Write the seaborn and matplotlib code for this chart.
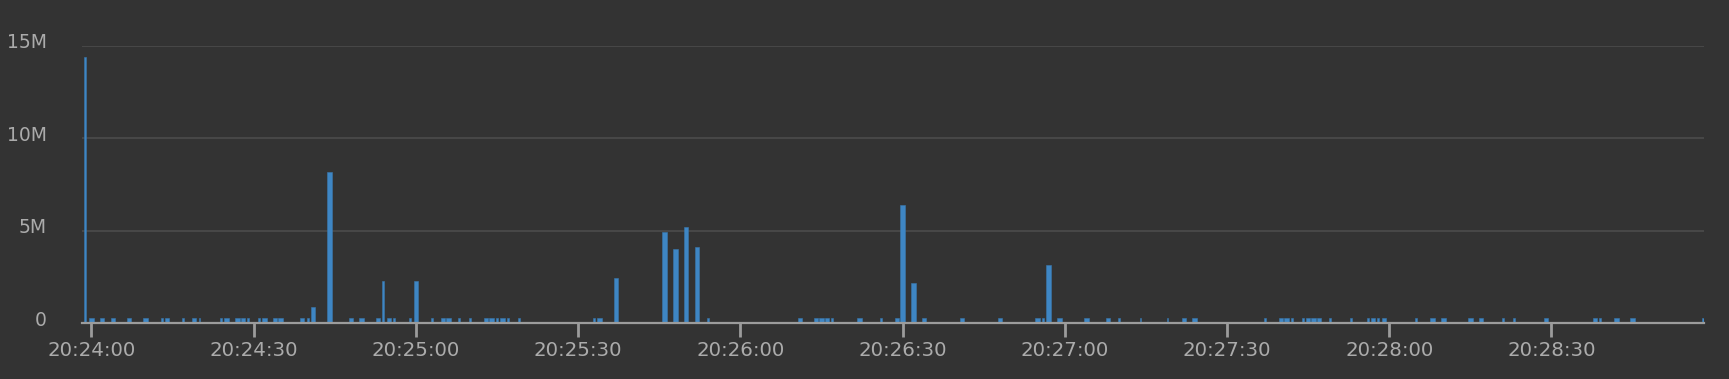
import numpy as np
import pandas as pd
import matplotlib
matplotlib.use("Agg")
import matplotlib.pyplot as plt
import matplotlib.transforms as mtransforms
import seaborn as sns

# seconds after 20:24:00, values in millions
wide_t = [0, 2, 4, 7, 10, 14, 19, 25, 27, 28, 32, 34, 35, 39, 41, 44, 48, 50, 53, 55,
          60, 65, 66, 73, 74, 76, 94, 97, 106, 108, 110, 112, 131, 134, 135, 136, 142,
          149, 150, 152, 154, 161, 168, 175, 177, 179, 184, 188, 202, 204, 220, 221,
          225, 226, 227, 237, 239, 248, 250, 255, 257, 269, 278, 282, 285]
wide_v = [0.25, 0.25, 0.25, 0.25, 0.25, 0.25, 0.25, 0.25, 0.25, 0.25, 0.25, 0.25, 0.25,
          0.25, 0.85, 8.15, 0.25, 0.25, 0.25, 0.25,
          2.28, 0.25, 0.25, 0.25, 0.25, 0.25, 0.25, 2.42, 4.95, 3.99, 5.18, 4.12, 0.25,
          0.25, 0.25, 0.25, 0.25,
          0.25, 6.39, 2.17, 0.25, 0.25, 0.25, 0.25, 3.14, 0.25, 0.25, 0.25, 0.25, 0.25,
          0.25, 0.25,
          0.25, 0.25, 0.25, 0.25, 0.25, 0.25, 0.25, 0.25, 0.25, 0.25, 0.25, 0.25, 0.25]
thin_t = [-1.2, 13, 17, 20, 24, 29, 31, 40, 54, 56, 59, 63, 68, 70, 75, 77, 79, 93, 114,
          137, 146, 176, 190, 194, 199, 217, 222, 224, 229, 233, 236, 238, 245, 261, 263,
          279, 298]
thin_v = [14.4, 0.25, 0.25, 0.25, 0.25, 0.25, 0.25, 0.25, 2.28, 0.25, 0.25, 0.25, 0.25,
          0.25, 0.25, 0.25, 0.25, 0.25, 0.25,
          0.25, 0.25, 0.25, 0.25, 0.25, 0.25, 0.25, 0.25, 0.25, 0.25, 0.25, 0.25, 0.25,
          0.25, 0.25, 0.25, 0.25, 0.25]
tick_secs = [0, 30, 60, 90, 120, 150, 180, 210, 240, 270]
tick_labels = ["20:24:00", "20:24:30", "20:25:00", "20:25:30", "20:26:00",
               "20:26:30", "20:27:00", "20:27:30", "20:28:00", "20:28:30"]
y_ticks = [0, 5, 10, 15]
y_labels = ["0", "5M", "10M", "15M"]

BG = "#333333"
BAR = "#3e86c4"
TXT = "#ababab"
AXC = "#9c9c9c"
GRID = "#4a4a4a"

sns.set_theme(style="dark")
plt.rcParams["font.family"] = ["DejaVu Sans"]

fig = plt.figure(figsize=(17.29, 3.79), dpi=100, facecolor=BG)
ax = fig.add_axes([81.7 / 1729, 1 - 323 / 379, (1704 - 81.7) / 1729, (323 - 46) / 379])
ax.set_facecolor(BG)

wide = pd.DataFrame({"t": wide_t, "v": np.array(wide_v) * 1e6})
thin = pd.DataFrame({"t": thin_t, "v": np.array(thin_v) * 1e6})

wide_w = 0.83 / np.min(np.diff(np.unique(wide["t"])))
thin_w = 0.36 / np.min(np.diff(np.unique(thin["t"])))

sns.barplot(data=wide, x="t", y="v", native_scale=True, width=wide_w, color=BAR,
            saturation=1, errorbar=None, edgecolor="#3a78ad", linewidth=0.4, ax=ax)
sns.barplot(data=thin, x="t", y="v", native_scale=True, width=thin_w, color=BAR,
            saturation=1, errorbar=None, edgecolor="#3a78ad", linewidth=0.4, ax=ax)

ax.set_xlim(-1.78, 298.2)
ax.set_ylim(0, 15e6)
ax.set_xlabel("")
ax.set_ylabel("")

ax.set_yticks([v * 1e6 for v in y_ticks])
ax.set_yticklabels(y_labels)
ax.set_xticks(tick_secs)
ax.set_xticklabels(tick_labels)

ax.grid(False)
for v in y_ticks[1:]:
    ax.axhline(v * 1e6, color=GRID, lw=1.3, zorder=0)

for s in ["top", "right", "left"]:
    ax.spines[s].set_visible(False)
ax.spines["bottom"].set_visible(True)
ax.spines["bottom"].set_color(AXC)
ax.spines["bottom"].set_linewidth(1.6)
ax.spines["bottom"].set_zorder(5)

ax.tick_params(axis="x", colors=AXC, labelcolor=TXT, length=10, width=2,
               direction="out", pad=3, labelsize=14.2, bottom=True)
ax.tick_params(axis="y", length=0, labelcolor=TXT, pad=25, labelsize=13.5)

offset = mtransforms.ScaledTranslation(0, 5 / 100, fig.dpi_scale_trans)
for lab in ax.get_yticklabels():
    lab.set_transform(lab.get_transform() + offset)

fig.savefig("out.png", dpi=100, facecolor=BG)
